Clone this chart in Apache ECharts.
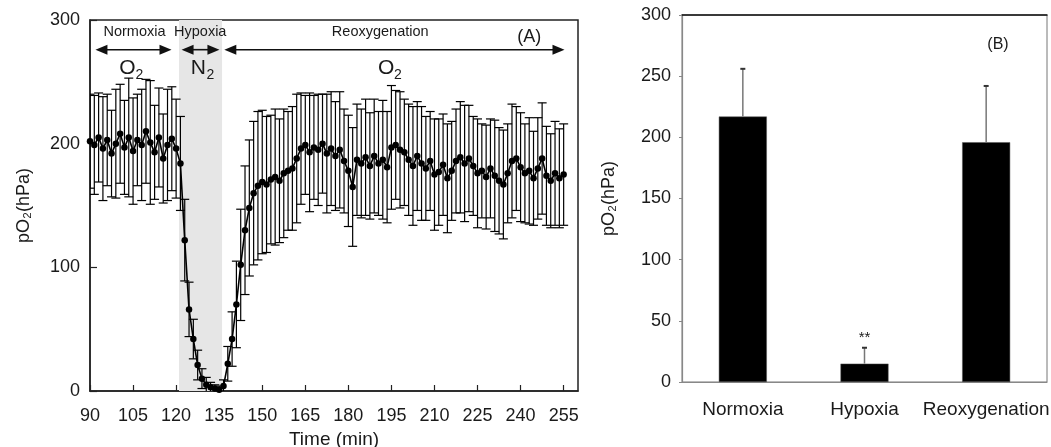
<!DOCTYPE html>
<html><head><meta charset="utf-8">
<script src="https://cdn.jsdelivr.net/npm/echarts@6/dist/echarts.min.js"></script>
<style>html,body{margin:0;padding:0;background:#fff}#c{width:1051px;height:447px}</style>
</head><body><div id="c"></div>
<script>
// ---- Panel A data: time course (mean ± SD) ----
const timeMin = [90,91.5,93,94.5,96,97.5,99,100.5,102,103.5,105,106.5,108,109.5,111,112.5,114,115.5,117,118.5,120,121.5,123,124.5,126,127.5,129,130.5,132,133.5,135,136.5,138,139.5,141,142.5,144,145.5,147,148.5,150,151.5,153,154.5,156,157.5,159,160.5,162,163.5,165,166.5,168,169.5,171,172.5,174,175.5,177,178.5,180,181.5,183,184.5,186,187.5,189,190.5,192,193.5,195,196.5,198,199.5,201,202.5,204,205.5,207,208.5,210,211.5,213,214.5,216,217.5,219,220.5,222,223.5,225,226.5,228,229.5,231,232.5,234,235.5,237,238.5,240,241.5,243,244.5,246,247.5,249,250.5,252,253.5,255];
const meanA = [202,199,205,196,203,192,200,208,197,205,194,203,199,210,201,193,205,188,199,204,196,184,122,66,42,21,10,5,3,2,1,4,22,42,70,102,130,148,160,166,169,167,171,173,170,176,178,180,188,196,199,193,197,195,200,192,196,190,195,186,178,165,187,184,189,182,190,184,187,181,197,199,195,193,187,182,190,184,180,186,175,177,183,172,178,186,189,184,188,182,176,178,173,180,174,170,167,176,186,188,181,176,178,172,180,188,174,170,176,172,175];
const sdA = [38,40,36,42,37,35,44,40,38,48,43,37,45,42,50,38,40,36,45,42,40,38,33,22,16,12,8,6,4,3,3,5,14,22,35,45,52,55,58,60,58,55,52,55,50,52,48,50,52,45,40,48,42,45,40,48,46,44,47,42,45,48,45,44,47,43,46,42,48,45,50,44,47,43,45,48,44,46,42,40,45,43,41,44,40,42,45,47,43,40,44,38,42,40,45,43,44,40,46,42,44,40,43,38,41,45,40,38,42,40,41];
const xTicksA = [90,105,120,135,150,165,180,195,210,225,240,255];
const yTicksA = [0,100,200,300];
const hypoxiaWindow = [121, 136];
const phaseNames = ['Normoxia','Hypoxia','Reoxygenation'];
const phaseArrowStart = [91.9,121.9,136.8];
const phaseArrowEnd = [118.4,135.1,255.3];
const phaseTextAt = [105.5,128.4,191.1];
const gasLetters = ['O','N','O'];
const gasTextAt = [104.8,129.5,194.9];

// ---- Panel B data ----
const categoriesB = ['Normoxia','Hypoxia','Reoxygenation'];
const meanB = [217,15,196];
const sdB = [39,13,46];
const signifB = ['','**',''];
const yTicksB = [0,50,100,150,200,250,300];

const FONT = "'Liberation Sans', Arial, Helvetica, sans-serif";
const TXT = '#1a1a1a';
const chart = echarts.init(document.getElementById('c'));

chart.setOption({
  animation:false,
  textStyle:{fontFamily:FONT},
  grid:[
    {left:90,top:20,width:488,height:371,show:true,borderColor:'#222',borderWidth:1.5,backgroundColor:'transparent',containLabel:false,outerBoundsMode:'none'},
    {left:682,top:15,width:365,height:367,show:true,borderColor:'#777',borderWidth:1,backgroundColor:'transparent',containLabel:false,outerBoundsMode:'none'}
  ],
  xAxis:[
    {type:'value',gridIndex:0,min:xTicksA[0],max:260,interval:xTicksA[1]-xTicksA[0],
     axisLine:{lineStyle:{color:'#222',width:1.5}},
     axisTick:{inside:true,length:6,lineStyle:{color:'#222',width:1.2}},
     axisLabel:{showMaxLabel:false,color:TXT,fontSize:18,margin:16,fontFamily:FONT},
     splitLine:{show:false},
     name:'Time (min)',nameLocation:'middle',nameGap:35,
     nameTextStyle:{color:TXT,fontSize:19,fontFamily:FONT}},
    {type:'category',gridIndex:1,data:categoriesB,
     axisLine:{lineStyle:{color:'#888',width:1.2}},
     axisTick:{show:false},
     axisLabel:{interval:0,color:TXT,fontSize:19,margin:18,fontFamily:FONT}},
    {type:'category',gridIndex:1,position:'top',data:categoriesB,
     axisLine:{lineStyle:{color:'#111',width:1.5}},
     axisTick:{show:false},axisLabel:{show:false}}
  ],
  yAxis:[
    {type:'value',gridIndex:0,min:yTicksA[0],max:yTicksA[yTicksA.length-1],interval:yTicksA[1]-yTicksA[0],
     axisLine:{show:true,lineStyle:{color:'#222',width:1.5}},
     axisTick:{show:true,inside:true,length:7,lineStyle:{color:'#222',width:1.2}},
     axisLabel:{color:TXT,fontSize:18,margin:10,fontFamily:FONT},
     splitLine:{show:false},
     name:'pO\u2082(hPa)',nameLocation:'middle',nameRotate:90,nameGap:57,
     nameTextStyle:{color:TXT,fontSize:18,fontFamily:FONT}},
    {type:'value',gridIndex:1,min:yTicksB[0],max:yTicksB[yTicksB.length-1],interval:yTicksB[1]-yTicksB[0],
     axisLine:{show:true,lineStyle:{color:'#888',width:1.2}},
     axisTick:{show:true,inside:false,length:3,lineStyle:{color:'#888'}},
     axisLabel:{color:TXT,fontSize:18,margin:11,fontFamily:FONT},
     splitLine:{show:false},
     name:'pO\u2082(hPa)',nameLocation:'middle',nameRotate:90,nameGap:64,
     nameTextStyle:{color:TXT,fontSize:18,fontFamily:FONT}}
  ],
  series:[
    {type:'line',xAxisIndex:0,yAxisIndex:0,data:[],z:1,silent:true,
     markArea:{silent:true,itemStyle:{color:'#e6e6e6'},data:[[{xAxis:hypoxiaWindow[0]},{xAxis:hypoxiaWindow[1]}]]}},
    {type:'custom',xAxisIndex:0,yAxisIndex:0,z:3,clip:true,
     data:timeMin.map((t,i)=>[t,meanA[i]-sdA[i],meanA[i]+sdA[i]]),
     encode:{x:0,y:[1,2]},
     renderItem:function(params,api){
       const lo=api.coord([api.value(0),api.value(1)]);
       const hi=api.coord([api.value(0),api.value(2)]);
       const w=4.5;
       const st={stroke:'#000',lineWidth:1.2};
       return {type:'group',children:[
         {type:'line',shape:{x1:lo[0],y1:lo[1],x2:hi[0],y2:hi[1]},style:st},
         {type:'line',shape:{x1:lo[0]-w,y1:lo[1],x2:lo[0]+w,y2:lo[1]},style:st},
         {type:'line',shape:{x1:hi[0]-w,y1:hi[1],x2:hi[0]+w,y2:hi[1]},style:st}
       ]};
     }},
    {type:'line',xAxisIndex:0,yAxisIndex:0,z:4,
     data:timeMin.map((t,i)=>[t,meanA[i]]),
     symbol:'circle',symbolSize:6.5,showSymbol:true,
     itemStyle:{color:'#000'},lineStyle:{color:'#000',width:1.6}},
    {type:'bar',xAxisIndex:1,yAxisIndex:1,barWidth:48,z:2,
     data:meanB.map((v,i)=>({value:v,label:{show:signifB[i]!=='',formatter:signifB[i],position:'top',distance:sdB[i]+5,color:TXT,fontSize:15,fontFamily:FONT}})),
     itemStyle:{color:'#000',borderColor:'#555',borderWidth:0.5}},
    {type:'custom',xAxisIndex:1,yAxisIndex:1,z:3,
     data:meanB.map((v,i)=>[i,v,v+sdB[i]]),
     renderItem:function(params,api){
       const lo=api.coord([api.value(0),api.value(1)]);
       const hi=api.coord([api.value(0),api.value(2)]);
       const w=2.5;
       return {type:'group',children:[
         {type:'line',shape:{x1:lo[0],y1:lo[1],x2:hi[0],y2:hi[1]},style:{stroke:'#777',lineWidth:1.5}},
         {type:'line',shape:{x1:hi[0]-w,y1:hi[1],x2:hi[0]+w,y2:hi[1]},style:{stroke:'#333',lineWidth:2}}
       ]};
     }}
  ]
});

// Annotations for panel A positioned through the axes
function px(t,v){return chart.convertToPixel({gridIndex:0},[t,v]);}
const g=[];
const arrowV=276, textV=290, gasV=261;
for(let i=0;i<phaseNames.length;i++){
  const a=px(phaseArrowStart[i],arrowV), b=px(phaseArrowEnd[i],arrowV);
  const L=12, H=5;
  g.push({type:'line',z:50,shape:{x1:a[0]+L-1,y1:a[1],x2:b[0]-L+1,y2:b[1]},style:{stroke:'#111',lineWidth:1.6}});
  g.push({type:'polygon',z:50,shape:{points:[[a[0],a[1]],[a[0]+L,a[1]-H],[a[0]+L,a[1]+H]]},style:{fill:'#111'}});
  g.push({type:'polygon',z:50,shape:{points:[[b[0],b[1]],[b[0]-L,b[1]-H],[b[0]-L,b[1]+H]]},style:{fill:'#111'}});
  const tp=px(phaseTextAt[i],textV);
  g.push({type:'text',z:50,x:tp[0],y:tp[1],style:{text:phaseNames[i],fontSize:14.5,fontFamily:FONT,fill:TXT,textAlign:'center',textVerticalAlign:'middle'}});
  const gp=px(gasTextAt[i],gasV);
  g.push({type:'text',z:50,x:gp[0]-5,y:gp[1],style:{text:gasLetters[i],fontSize:21,fontFamily:FONT,fill:TXT,textAlign:'center',textVerticalAlign:'middle'}});
  g.push({type:'text',z:50,x:gp[0]+3,y:gp[1]+7,style:{text:'2',fontSize:14,fontFamily:FONT,fill:TXT,textAlign:'left',textVerticalAlign:'middle'}});
}
const pa=px(243,286);
g.push({type:'text',z:50,x:pa[0],y:pa[1],style:{text:'(A)',fontSize:18,fontFamily:FONT,fill:TXT,textAlign:'center',textVerticalAlign:'middle'}});
g.push({type:'text',z:50,x:998,y:45,style:{text:'(B)',fontSize:16,fontFamily:FONT,fill:TXT,textAlign:'center',textVerticalAlign:'middle'}});
chart.setOption({graphic:{elements:g}});
</script>
</body></html>
